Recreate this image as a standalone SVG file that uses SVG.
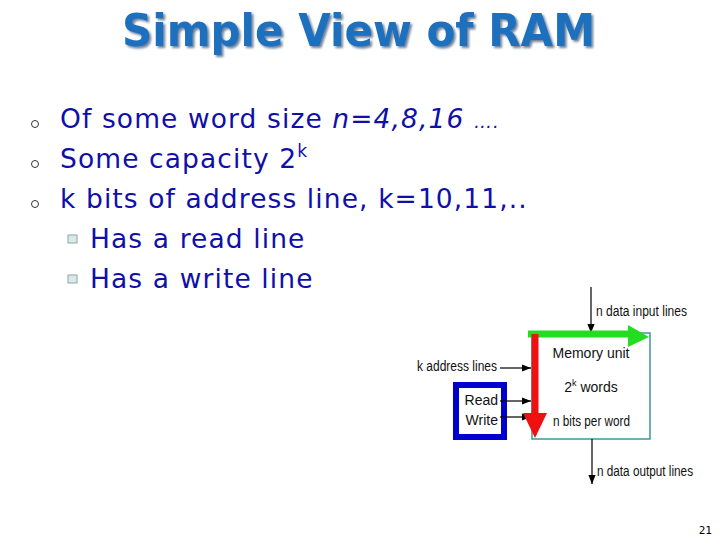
<svg xmlns="http://www.w3.org/2000/svg" width="720" height="540" viewBox="0 0 720 540">
<style>
.title{font-family:"DejaVu Sans",sans-serif;font-weight:bold;font-size:45px;fill:#1e6fbe}
.body{font-family:"DejaVu Sans",Verdana,sans-serif;font-size:26.5px;letter-spacing:1.1px;fill:#1010a8}
.lbl{font-family:"Liberation Sans",Arial,sans-serif;font-size:14px;fill:#111}
.thin{stroke:#000;stroke-width:1.2;fill:none}
</style>
<defs>
<marker id="ah" viewBox="0 0 10 10" refX="10" refY="5" markerWidth="9" markerHeight="9" markerUnits="userSpaceOnUse" orient="auto">
<path d="M0,1 L10,5 L0,9 z" fill="#000"/>
</marker>
<filter id="shadow" x="-5%" y="-20%" width="110%" height="150%">
<feDropShadow dx="2" dy="2" stdDeviation="0.8" flood-color="#0a2a55" flood-opacity="0.6"/>
</filter>
</defs>
<rect width="720" height="540" fill="#fff"/>
<g id="title">
<text class="title" x="122" y="46" textLength="473" lengthAdjust="spacingAndGlyphs" filter="url(#shadow)">Simple View of RAM</text>
</g>
<g id="bullets">
<circle cx="35" cy="124" r="3.5" fill="none" stroke="#333" stroke-width="1"/>
<circle cx="35" cy="164" r="3.5" fill="none" stroke="#333" stroke-width="1"/>
<circle cx="35" cy="204" r="3.5" fill="none" stroke="#333" stroke-width="1"/>
<text class="body" x="60" y="128">Of some word size <tspan font-style="italic">n=4,8,16</tspan> <tspan font-style="italic" font-size="18">….</tspan></text>
<text class="body" x="60" y="168">Some capacity 2<tspan font-size="17" dy="-11">k</tspan></text>
<text class="body" x="60" y="208">k bits of address line, k=10,11,..</text>
<rect x="68" y="235" width="9" height="8" fill="#dde8ea" stroke="#8aa" stroke-width="1"/>
<rect x="68" y="275" width="9" height="8" fill="#dde8ea" stroke="#8aa" stroke-width="1"/>
<text class="body" x="90" y="248">Has a read line</text>
<text class="body" x="90" y="288">Has a write line</text>
</g>
<g id="memory-unit">
<rect x="532" y="333" width="118" height="106" fill="#fff" stroke="#3a9a9a" stroke-width="1.5"/>
<text class="lbl" x="591" y="358" text-anchor="middle">Memory unit</text>
<text class="lbl" x="591" y="392" text-anchor="middle">2<tspan font-size="9" dy="-6">k</tspan><tspan dy="6"> words</tspan></text>
<text class="lbl" x="553" y="426" textLength="77" lengthAdjust="spacingAndGlyphs">n bits per word</text>
</g>
<g id="rw-box">
<rect x="456" y="385" width="48" height="52" fill="none" stroke="#0000cc" stroke-width="6"/>
<text class="lbl" x="498" y="405" text-anchor="end">Read</text>
<text class="lbl" x="498" y="425" text-anchor="end">Write</text>
</g>
<g id="labels">
<text class="lbl" x="596" y="316" textLength="91" lengthAdjust="spacingAndGlyphs">n data input lines</text>
<text class="lbl" x="417" y="371" textLength="80" lengthAdjust="spacingAndGlyphs">k address lines</text>
<text class="lbl" x="597" y="476" textLength="96" lengthAdjust="spacingAndGlyphs">n data output lines</text>
</g>
<g id="connectors">
<line class="thin" x1="591" y1="287" x2="591" y2="333" marker-end="url(#ah)"/>
<line class="thin" x1="500" y1="368" x2="531" y2="368" marker-end="url(#ah)"/>
<line class="thin" x1="500" y1="401" x2="531" y2="401" marker-end="url(#ah)"/>
<line class="thin" x1="500" y1="417" x2="531" y2="417" marker-end="url(#ah)"/>
<line class="thin" x1="592" y1="439" x2="592" y2="484" marker-end="url(#ah)"/>
<path d="M528,334 H630" stroke="#22dd22" stroke-width="7" fill="none"/>
<path d="M628,325 L649,337 L628,347 z" fill="#22dd22"/>
<path d="M535,334 V415" stroke="#ee1111" stroke-width="7" fill="none"/>
<path d="M523,413 L547,413 L535,438 z" fill="#ee1111"/>
</g>
<text x="712" y="534" text-anchor="end" font-family="DejaVu Sans Mono,monospace" font-size="11" fill="#000">21</text>
</svg>
